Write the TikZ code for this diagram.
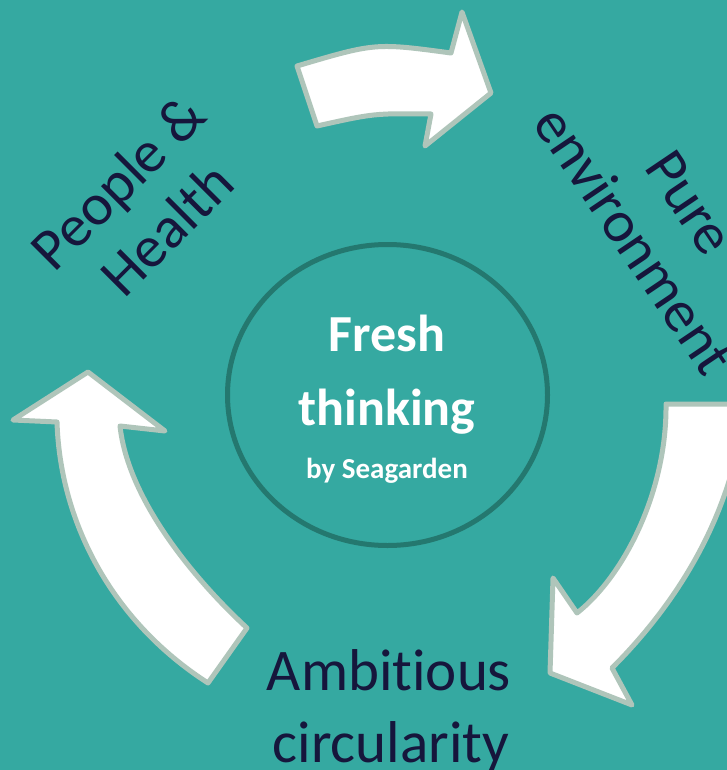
\documentclass[tikz,border=0pt]{standalone}
\usepackage{fontspec}
\setmainfont{Carlito}[Ligatures={NoCommon,NoRare,NoDiscretionary}]
\usetikzlibrary{shapes.geometric}
\definecolor{bg}{HTML}{35A9A1}
\definecolor{ring}{HTML}{24786F}
\definecolor{arrowedge}{HTML}{AFC5BA}
\definecolor{navy}{HTML}{16163C}
\tikzset{
  blockarrow/.style={fill=white, draw=arrowedge, line width=5pt, line join=round},
  outerlabel/.style={text=navy, font=\fontsize{59}{68}\selectfont, inner sep=0pt, anchor=base},
  centerlabel/.style={text=white, inner sep=0pt, anchor=base},
}
\begin{document}
\begin{tikzpicture}[x=1pt,y=-1pt]
\fill[bg] (0,0) rectangle (727,770);
\useasboundingbox (0,0) rectangle (727,770);
\clip (0,0) rectangle (727,770);
% centre ring
\node[ellipse, draw=ring, line width=5pt, inner sep=0pt, minimum width=320pt, minimum height=301pt] (hub) at (387.5,395) {};
% top arrow
\draw[blockarrow] (297,66) .. controls (375.3,42.8) .. (451,53) -- (462,12) -- (491,93) -- (425,146) -- (431,114) .. controls (374,113.3) .. (317,126) -- cycle;
% right arrow
\draw[blockarrow] (666,404) -- (745,404) .. controls (735,500) and (690,590) .. (612,668) -- (632,705) -- (550,673) -- (553,578) -- (577,613) .. controls (625,575) and (667,490) .. cycle;
% left arrow
\draw[blockarrow] (88,372) -- (13,420) -- (57,422) .. controls (60,520) and (110,620) .. (208,683) -- (247,628) .. controls (195,580) and (128,500) .. (120,426) -- (165,431) -- cycle;
% centre text
\node[centerlabel, font=\fontsize{52}{60}\selectfont\bfseries] (fresh) at (387,351.7) {Fresh};
\node[centerlabel, font=\fontsize{52}{60}\selectfont\bfseries] (thinking) at (387,425) {thinking};
\node[centerlabel, font=\fontsize{29}{34}\selectfont\bfseries] (by) at (387,478.3) {by Seagarden};
% outer labels
\node[outerlabel, rotate=45] (people) at (131.7,196.3) {People \&};
\node[outerlabel, rotate=45] (health) at (181,243) {Health};
\node[outerlabel, rotate=-56] (pure) at (674.4,213) {Pure};
\node[outerlabel, rotate=-56] (env) at (618,251) {environment};
\node[outerlabel] (ambitious) at (389,690) {Ambitious};
\node[outerlabel] (circ) at (391,762) {circularity};
\end{tikzpicture}
\end{document}
